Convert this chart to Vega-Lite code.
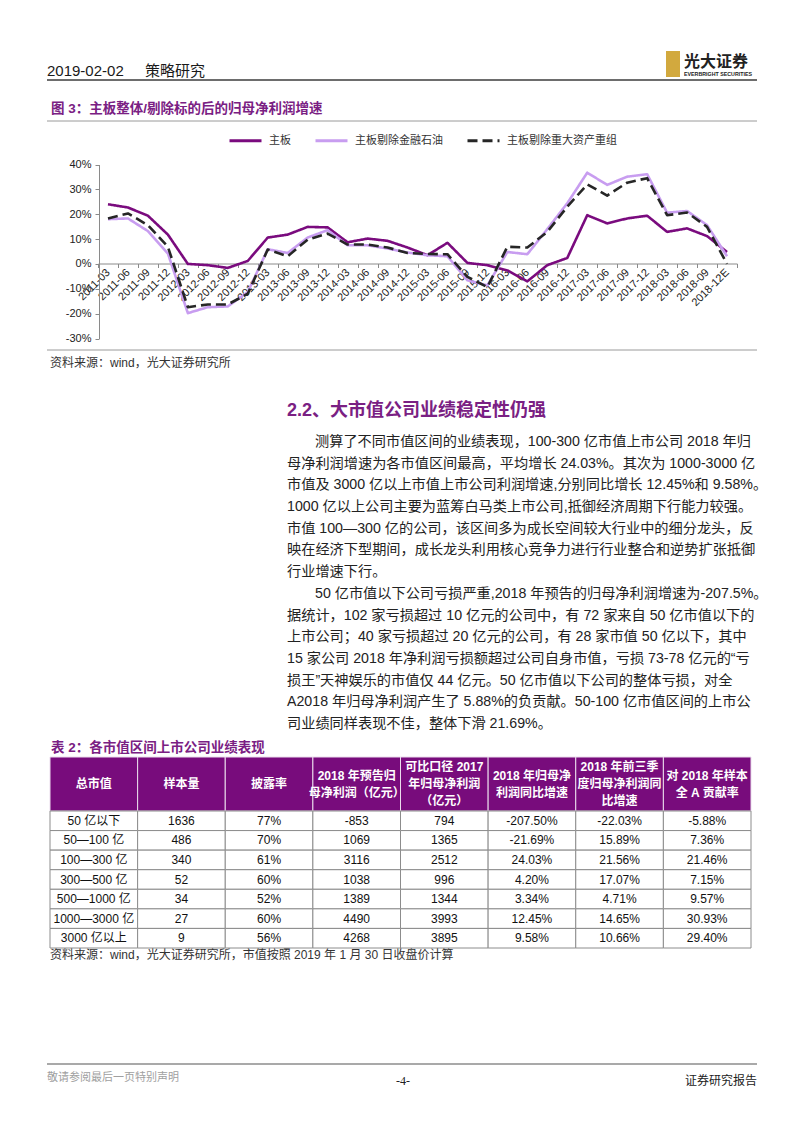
{
  "$schema": "https://vega.github.io/schema/vega-lite/v6.json",
  "width": 802,
  "height": 1133,
  "autosize": "none",
  "padding": 0,
  "background": "white",
  "config": {"view": {"stroke": null}, "font": "Liberation Sans, Noto Sans CJK SC"},
  "resolve": {"scale": {"x": "independent", "y": "independent"}},
  "layer": [
    {
      "data": {"values": [{"rule": "header"}]},
      "mark": {"type": "rule", "stroke": "#3c3c3c", "strokeWidth": 1.5},
      "encoding": {
        "x": {"datum": "left", "type": "nominal", "scale": {"type": "point", "domain": ["left", "right"], "range": [47, 757], "padding": 0}, "axis": null},
        "x2": {"datum": "right"},
        "y": {"field": "rule", "type": "nominal", "scale": {"type": "point", "domain": ["header"], "range": [80, 80], "padding": 0}, "axis": null}
      }
    },
    {
      "data": {"values": [{"rule": "caption"}, {"rule": "source"}]},
      "mark": {"type": "rule", "stroke": "#9a9a9a", "strokeWidth": 1},
      "encoding": {
        "x": {"datum": "left", "type": "nominal", "scale": {"type": "point", "domain": ["left", "right"], "range": [47, 757], "padding": 0}, "axis": null},
        "x2": {"datum": "right"},
        "y": {"field": "rule", "type": "nominal", "scale": {"type": "point", "domain": ["caption", "source"], "range": [121, 350], "padding": 0}, "axis": null}
      }
    },
    {
      "data": {"values": [{"rule": "footer"}]},
      "mark": {"type": "rule", "stroke": "#8c8c8c", "strokeWidth": 1.5},
      "encoding": {
        "x": {"datum": "left", "type": "nominal", "scale": {"type": "point", "domain": ["left", "right"], "range": [47, 757], "padding": 0}, "axis": null},
        "x2": {"datum": "right"},
        "y": {"field": "rule", "type": "nominal", "scale": {"type": "point", "domain": ["footer"], "range": [1064, 1064], "padding": 0}, "axis": null}
      }
    },
    {
      "data": {"values": [{"part": "date", "text": "2019-02-02"}, {"part": "section", "text": "策略研究"}]},
      "mark": {"type": "text", "align": "left", "baseline": "middle", "fontSize": 15, "color": "#1a1a1a"},
      "encoding": {
        "x": {"field": "part", "type": "nominal", "scale": {"type": "point", "domain": ["date", "section"], "range": [47, 145], "padding": 0}, "axis": null},
        "y": {"datum": "header", "type": "nominal", "scale": {"type": "point", "domain": ["header"], "range": [71, 71], "padding": 0}, "axis": null},
        "text": {"field": "text"}
      }
    },
    {
      "data": {"values": [{"logo": "E"}]},
      "mark": {"type": "rect", "fill": "#D2A93E"},
      "encoding": {
        "x": {"datum": "l", "type": "nominal", "scale": {"type": "point", "domain": ["l", "r"], "range": [666, 680], "padding": 0}, "axis": null},
        "x2": {"datum": "r"},
        "y": {"datum": "t", "type": "nominal", "scale": {"type": "point", "domain": ["t", "b"], "range": [51, 77], "padding": 0}, "axis": null},
        "y2": {"datum": "b"}
      }
    },
    {
      "data": {"values": [{"k": "cn", "text": "光大证券"}, {"k": "en", "text": "EVERBRIGHT SECURITIES"}]},
      "mark": {"type": "text", "align": "left", "baseline": "middle", "fontWeight": "bold", "color": "#222"},
      "encoding": {
        "x": {"datum": "logo", "type": "nominal", "scale": {"type": "point", "domain": ["logo"], "range": [684, 684], "padding": 0}, "axis": null},
        "y": {"field": "k", "type": "nominal", "scale": {"type": "point", "domain": ["cn", "en"], "range": [62, 73.5], "padding": 0}, "axis": null},
        "size": {"field": "k", "type": "nominal", "scale": {"domain": ["cn", "en"], "range": [16, 5.3]}, "legend": null},
        "text": {"field": "text"}
      }
    },
    {
      "data": {"values": [{"k": "fig", "text": "图 3：主板整体/剔除标的后的归母净利润增速"}, {"k": "tab", "text": "表 2：各市值区间上市公司业绩表现"}]},
      "mark": {"type": "text", "align": "left", "baseline": "middle", "fontSize": 13.5, "fontWeight": "bold", "color": "#7A2083"},
      "encoding": {
        "x": {"datum": "cap", "type": "nominal", "scale": {"type": "point", "domain": ["cap"], "range": [51, 51], "padding": 0}, "axis": null},
        "y": {"field": "k", "type": "nominal", "scale": {"type": "point", "domain": ["fig", "tab"], "range": [108.5, 748], "padding": 0}, "axis": null},
        "text": {"field": "text"}
      }
    },
    {
      "data": {"values": [{"k": "fig", "text": "资料来源：wind，光大证券研究所"}, {"k": "tab", "text": "资料来源：wind，光大证券研究所，市值按照 2019 年 1 月 30 日收盘价计算"}]},
      "mark": {"type": "text", "align": "left", "baseline": "middle", "fontSize": 12, "color": "#333"},
      "encoding": {
        "x": {"datum": "src", "type": "nominal", "scale": {"type": "point", "domain": ["src"], "range": [50, 50], "padding": 0}, "axis": null},
        "y": {"field": "k", "type": "nominal", "scale": {"type": "point", "domain": ["fig", "tab"], "range": [363, 955], "padding": 0}, "axis": null},
        "text": {"field": "text"}
      }
    },
    {
      "data": {"values": [{"k": "h", "text": "2.2、大市值公司业绩稳定性仍强"}]},
      "mark": {"type": "text", "align": "left", "baseline": "middle", "fontSize": 18, "fontWeight": "bold", "color": "#7A2083"},
      "encoding": {
        "x": {"datum": "body", "type": "nominal", "scale": {"type": "point", "domain": ["body"], "range": [287, 287], "padding": 0}, "axis": null},
        "y": {"field": "k", "type": "nominal", "scale": {"type": "point", "domain": ["h"], "range": [411, 411], "padding": 0}, "axis": null},
        "text": {"field": "text"}
      }
    },
    {
      "data": {"values": [
        {"line": 1, "indent": "yes", "text": "测算了不同市值区间的业绩表现，100-300 亿市值上市公司 2018 年归"},
        {"line": 2, "indent": "no", "text": "母净利润增速为各市值区间最高，平均增长 24.03%。其次为 1000-3000 亿"},
        {"line": 3, "indent": "no", "text": "市值及 3000 亿以上市值上市公司利润增速,分别同比增长 12.45%和 9.58%。"},
        {"line": 4, "indent": "no", "text": "1000 亿以上公司主要为蓝筹白马类上市公司,抵御经济周期下行能力较强。"},
        {"line": 5, "indent": "no", "text": "市值 100—300 亿的公司，该区间多为成长空间较大行业中的细分龙头，反"},
        {"line": 6, "indent": "no", "text": "映在经济下型期间，成长龙头利用核心竞争力进行行业整合和逆势扩张抵御"},
        {"line": 7, "indent": "no", "text": "行业增速下行。"},
        {"line": 8, "indent": "yes", "text": "50 亿市值以下公司亏损严重,2018 年预告的归母净利润增速为-207.5%。"},
        {"line": 9, "indent": "no", "text": "据统计，102 家亏损超过 10 亿元的公司中，有 72 家来自 50 亿市值以下的"},
        {"line": 10, "indent": "no", "text": "上市公司；40 家亏损超过 20 亿元的公司，有 28 家市值 50 亿以下，其中"},
        {"line": 11, "indent": "no", "text": "15 家公司 2018 年净利润亏损额超过公司自身市值，亏损 73-78 亿元的“亏"},
        {"line": 12, "indent": "no", "text": "损王”天神娱乐的市值仅 44 亿元。50 亿市值以下公司的整体亏损，对全"},
        {"line": 13, "indent": "no", "text": "A2018 年归母净利润产生了 5.88%的负贡献。50-100 亿市值区间的上市公"},
        {"line": 14, "indent": "no", "text": "司业绩同样表现不佳，整体下滑 21.69%。"}
      ]},
      "mark": {"type": "text", "align": "left", "baseline": "middle", "fontSize": 14.2, "color": "#222"},
      "encoding": {
        "x": {"field": "indent", "type": "nominal", "scale": {"type": "point", "domain": ["no", "yes"], "range": [287, 315], "padding": 0}, "axis": null},
        "y": {"field": "line", "type": "ordinal", "scale": {"type": "point", "range": [442, 724], "padding": 0}, "axis": null},
        "text": {"field": "text"}
      }
    },
    {
      "data": {"values": [
        {"q": "2011-03", "主板": 24.0, "主板剔除金融石油": 18.0, "主板剔除重大资产重组": 18.3},
        {"q": "2011-06", "主板": 22.7, "主板剔除金融石油": 18.3, "主板剔除重大资产重组": 20.3},
        {"q": "2011-09", "主板": 19.4, "主板剔除金融石油": 13.2, "主板剔除重大资产重组": 15.6},
        {"q": "2011-12", "主板": 11.8, "主板剔除金融石油": 4.2, "主板剔除重大资产重组": 6.9},
        {"q": "2012-03", "主板": 0.0, "主板剔除金融石油": -19.8, "主板剔除重大资产重组": -17.4},
        {"q": "2012-06", "主板": -0.5, "主板剔除金融石油": -17.4, "主板剔除重大资产重组": -16.3},
        {"q": "2012-09", "主板": -1.6, "主板剔除金融石油": -17.1, "主板剔除重大资产重组": -16.3},
        {"q": "2012-12", "主板": 1.2, "主板剔除金融石油": -11.3, "主板剔除重大资产重组": -12.0},
        {"q": "2013-03", "主板": 10.6, "主板剔除金融石油": 5.9, "主板剔除重大资产重组": 5.8},
        {"q": "2013-06", "主板": 11.8, "主板剔除金融石油": 4.4, "主板剔除重大资产重组": 3.1},
        {"q": "2013-09", "主板": 14.9, "主板剔除金融石油": 10.6, "主板剔除重大资产重组": 9.8},
        {"q": "2013-12", "主板": 14.7, "主板剔除金融石油": 13.6, "主板剔除重大资产重组": 12.2},
        {"q": "2014-03", "主板": 8.7, "主板剔除金融石油": 7.5, "主板剔除重大资产重组": 7.8},
        {"q": "2014-06", "主板": 10.2, "主板剔除金融石油": 7.5, "主板剔除重大资产重组": 7.8},
        {"q": "2014-09", "主板": 9.3, "主板剔除金融石油": 6.2, "主板剔除重大资产重组": 6.6},
        {"q": "2014-12", "主板": 6.6, "主板剔除金融石油": 4.6, "主板剔除重大资产重组": 4.4},
        {"q": "2015-03", "主板": 3.5, "主板剔除金融石油": 3.5, "主板剔除重大资产重组": 4.0},
        {"q": "2015-06", "主板": 8.5, "主板剔除金融石油": 3.1, "主板剔除重大资产重组": 3.9},
        {"q": "2015-09", "主板": 0.4, "主板剔除金融石油": -6.6, "主板剔除重大资产重组": -5.2},
        {"q": "2015-12", "主板": -0.5, "主板剔除金融石油": -8.6, "主板剔除重大资产重组": -9.3},
        {"q": "2016-03", "主板": -2.6, "主板剔除金融石油": 4.8, "主板剔除重大资产重组": 6.9},
        {"q": "2016-06", "主板": -7.0, "主板剔除金融石油": 3.9, "主板剔除重大资产重组": 6.6},
        {"q": "2016-09", "主板": -0.5, "主板剔除金融石油": 14.0, "主板剔除重大资产重组": 12.9},
        {"q": "2016-12", "主板": 2.4, "主板剔除金融石油": 24.4, "主板剔除重大资产重组": 23.0},
        {"q": "2017-03", "主板": 19.6, "主板剔除金融石油": 36.7, "主板剔除重大资产重组": 32.0},
        {"q": "2017-06", "主板": 16.3, "主板剔除金融石油": 31.8, "主板剔除重大资产重组": 27.5},
        {"q": "2017-09", "主板": 18.3, "主板剔除金融石油": 35.1, "主板剔除重大资产重组": 32.7},
        {"q": "2017-12", "主板": 19.4, "主板剔除金融石油": 36.1, "主板剔除重大资产重组": 34.5},
        {"q": "2018-03", "主板": 12.9, "主板剔除金融石油": 20.6, "主板剔除重大资产重组": 19.6},
        {"q": "2018-06", "主板": 14.3, "主板剔除金融石油": 21.3, "主板剔除重大资产重组": 20.7},
        {"q": "2018-09", "主板": 11.2, "主板剔除金融石油": 15.6, "主板剔除重大资产重组": 14.9},
        {"q": "2018-12E", "主板": 4.8, "主板剔除金融石油": 3.1, "主板剔除重大资产重组": 0.0}
      ]},
      "transform": [{"fold": ["主板", "主板剔除金融石油", "主板剔除重大资产重组"], "as": ["series", "value"]}],
      "mark": {"type": "line", "strokeWidth": 2.6, "strokeJoin": "round"},
      "encoding": {
        "x": {
          "field": "q", "type": "ordinal", "bandPosition": 0.5,
          "scale": {"type": "band", "domain": ["2011-03","2011-06","2011-09","2011-12","2012-03","2012-06","2012-09","2012-12","2013-03","2013-06","2013-09","2013-12","2014-03","2014-06","2014-09","2014-12","2015-03","2015-06","2015-09","2015-12","2016-03","2016-06","2016-09","2016-12","2017-03","2017-06","2017-09","2017-12","2018-03","2018-06","2018-09","2018-12E"], "range": [98, 737], "paddingInner": 0, "paddingOuter": 0},
          "axis": {"orient": "bottom", "offset": -869.5, "title": null, "grid": false, "labelAngle": -45, "labelAlign": "right", "labelBaseline": "middle", "labelFont": "Liberation Sans", "labelFontSize": 11, "labelColor": "#222", "labelPadding": 3, "tickBand": "extent", "tickSize": 4, "tickColor": "#8a8a8a", "domainColor": "#8a8a8a"}
        },
        "y": {
          "field": "value", "type": "quantitative",
          "scale": {"domain": [-30, 40], "range": [338.5, 164.5], "nice": false, "zero": false},
          "axis": {"orient": "left", "offset": -99, "title": null, "grid": false, "values": [-30, -20, -10, 0, 10, 20, 30, 40], "labelExpr": "datum.value + '%'", "labelFont": "Liberation Sans", "labelFontSize": 11, "labelColor": "#222", "labelPadding": 4, "tickSize": 4, "tickColor": "#8a8a8a", "domainColor": "#8a8a8a"}
        },
        "color": {
          "field": "series", "type": "nominal",
          "scale": {"domain": ["主板", "主板剔除金融石油", "主板剔除重大资产重组"], "range": ["#7A0B7E", "#C89DF0", "#262626"]},
          "legend": {"title": null, "orient": "none", "legendX": 228, "legendY": 123, "direction": "horizontal", "symbolType": "stroke", "symbolSize": 1024, "symbolStrokeWidth": 3, "labelFont": "Noto Sans CJK SC", "labelFontSize": 11, "labelColor": "#333", "labelOffset": 6, "columnPadding": 18, "padding": 0}
        },
        "strokeDash": {
          "field": "series", "type": "nominal",
          "scale": {"domain": ["主板", "主板剔除金融石油", "主板剔除重大资产重组"], "range": [[1, 0], [1, 0], [10, 5]]},
          "legend": {"title": null, "orient": "none", "legendX": 228, "legendY": 123, "direction": "horizontal", "symbolType": "stroke", "symbolSize": 1024, "symbolStrokeWidth": 3, "labelFont": "Noto Sans CJK SC", "labelFontSize": 11, "labelColor": "#333", "labelOffset": 6, "columnPadding": 18, "padding": 0}
        }
      }
    },
    {
      "data": {"values": [
        {"col": "总市值"}, {"col": "样本量"}, {"col": "披露率"}, {"col": "2018年预告归母净利润"},
        {"col": "可比口径2017年归母净利润"}, {"col": "2018年归母净利润同比增速"},
        {"col": "2018年前三季度归母净利润同比增速"}, {"col": "对2018年样本全A贡献率"}
      ]},
      "mark": {"type": "rect", "fill": "#780C7C", "stroke": "#eadcec", "strokeWidth": 1},
      "encoding": {
        "x": {"field": "col", "type": "nominal", "scale": {"type": "band", "domain": ["总市值","样本量","披露率","2018年预告归母净利润","可比口径2017年归母净利润","2018年归母净利润同比增速","2018年前三季度归母净利润同比增速","对2018年样本全A贡献率"], "range": [50, 751], "paddingInner": 0, "paddingOuter": 0}, "axis": null},
        "y": {"datum": "header", "type": "nominal", "scale": {"type": "band", "domain": ["header"], "range": [757, 811], "paddingInner": 0, "paddingOuter": 0}, "axis": null}
      }
    },
    {
      "data": {"values": [
        {"col": "总市值", "slot": 3, "text": "总市值"},
        {"col": "样本量", "slot": 3, "text": "样本量"},
        {"col": "披露率", "slot": 3, "text": "披露率"},
        {"col": "2018年预告归母净利润", "slot": 2, "text": "2018 年预告归"},
        {"col": "2018年预告归母净利润", "slot": 4, "text": "母净利润（亿元）"},
        {"col": "可比口径2017年归母净利润", "slot": 1, "text": "可比口径 2017"},
        {"col": "可比口径2017年归母净利润", "slot": 3, "text": "年归母净利润"},
        {"col": "可比口径2017年归母净利润", "slot": 5, "text": "（亿元）"},
        {"col": "2018年归母净利润同比增速", "slot": 2, "text": "2018 年归母净"},
        {"col": "2018年归母净利润同比增速", "slot": 4, "text": "利润同比增速"},
        {"col": "2018年前三季度归母净利润同比增速", "slot": 1, "text": "2018 年前三季"},
        {"col": "2018年前三季度归母净利润同比增速", "slot": 3, "text": "度归母净利润同"},
        {"col": "2018年前三季度归母净利润同比增速", "slot": 5, "text": "比增速"},
        {"col": "对2018年样本全A贡献率", "slot": 2, "text": "对 2018 年样本"},
        {"col": "对2018年样本全A贡献率", "slot": 4, "text": "全 A 贡献率"}
      ]},
      "mark": {"type": "text", "align": "center", "baseline": "middle", "fontSize": 12, "fontWeight": "bold", "color": "white"},
      "encoding": {
        "x": {"field": "col", "type": "nominal", "scale": {"type": "band", "domain": ["总市值","样本量","披露率","2018年预告归母净利润","可比口径2017年归母净利润","2018年归母净利润同比增速","2018年前三季度归母净利润同比增速","对2018年样本全A贡献率"], "range": [50, 751], "paddingInner": 0, "paddingOuter": 0}, "axis": null},
        "y": {"field": "slot", "type": "ordinal", "scale": {"type": "point", "domain": [1, 2, 3, 4, 5], "range": [767, 801], "padding": 0}, "axis": null},
        "text": {"field": "text"}
      }
    },
    {
      "data": {"values": [
        {"总市值": "50 亿以下", "样本量": "1636", "披露率": "77%", "2018年预告归母净利润": "-853", "可比口径2017年归母净利润": "794", "2018年归母净利润同比增速": "-207.50%", "2018年前三季度归母净利润同比增速": "-22.03%", "对2018年样本全A贡献率": "-5.88%"},
        {"总市值": "50—100 亿", "样本量": "486", "披露率": "70%", "2018年预告归母净利润": "1069", "可比口径2017年归母净利润": "1365", "2018年归母净利润同比增速": "-21.69%", "2018年前三季度归母净利润同比增速": "15.89%", "对2018年样本全A贡献率": "7.36%"},
        {"总市值": "100—300 亿", "样本量": "340", "披露率": "61%", "2018年预告归母净利润": "3116", "可比口径2017年归母净利润": "2512", "2018年归母净利润同比增速": "24.03%", "2018年前三季度归母净利润同比增速": "21.56%", "对2018年样本全A贡献率": "21.46%"},
        {"总市值": "300—500 亿", "样本量": "52", "披露率": "60%", "2018年预告归母净利润": "1038", "可比口径2017年归母净利润": "996", "2018年归母净利润同比增速": "4.20%", "2018年前三季度归母净利润同比增速": "17.07%", "对2018年样本全A贡献率": "7.15%"},
        {"总市值": "500—1000 亿", "样本量": "34", "披露率": "52%", "2018年预告归母净利润": "1389", "可比口径2017年归母净利润": "1344", "2018年归母净利润同比增速": "3.34%", "2018年前三季度归母净利润同比增速": "4.71%", "对2018年样本全A贡献率": "9.57%"},
        {"总市值": "1000—3000 亿", "样本量": "27", "披露率": "60%", "2018年预告归母净利润": "4490", "可比口径2017年归母净利润": "3993", "2018年归母净利润同比增速": "12.45%", "2018年前三季度归母净利润同比增速": "14.65%", "对2018年样本全A贡献率": "30.93%"},
        {"总市值": "3000 亿以上", "样本量": "9", "披露率": "56%", "2018年预告归母净利润": "4268", "可比口径2017年归母净利润": "3895", "2018年归母净利润同比增速": "9.58%", "2018年前三季度归母净利润同比增速": "10.66%", "对2018年样本全A贡献率": "29.40%"}
      ]},
      "transform": [{"fold": ["总市值","样本量","披露率","2018年预告归母净利润","可比口径2017年归母净利润","2018年归母净利润同比增速","2018年前三季度归母净利润同比增速","对2018年样本全A贡献率"], "as": ["col", "cell"]}],
      "layer": [
        {
          "mark": {"type": "rect", "fill": "white", "stroke": "#8c8c8c", "strokeWidth": 1},
          "encoding": {
            "x": {"field": "col", "type": "nominal", "scale": {"type": "band", "domain": ["总市值","样本量","披露率","2018年预告归母净利润","可比口径2017年归母净利润","2018年归母净利润同比增速","2018年前三季度归母净利润同比增速","对2018年样本全A贡献率"], "range": [50, 751], "paddingInner": 0, "paddingOuter": 0}, "axis": null},
            "y": {"field": "总市值", "type": "nominal", "scale": {"type": "band", "domain": ["50 亿以下","50—100 亿","100—300 亿","300—500 亿","500—1000 亿","1000—3000 亿","3000 亿以上"], "range": [811, 948], "paddingInner": 0, "paddingOuter": 0}, "axis": null}
          }
        },
        {
          "mark": {"type": "text", "align": "center", "baseline": "middle", "fontSize": 12, "color": "#111"},
          "encoding": {
            "x": {"field": "col", "type": "nominal", "scale": {"type": "band", "domain": ["总市值","样本量","披露率","2018年预告归母净利润","可比口径2017年归母净利润","2018年归母净利润同比增速","2018年前三季度归母净利润同比增速","对2018年样本全A贡献率"], "range": [50, 751], "paddingInner": 0, "paddingOuter": 0}, "axis": null},
            "y": {"field": "总市值", "type": "nominal", "scale": {"type": "band", "domain": ["50 亿以下","50—100 亿","100—300 亿","300—500 亿","500—1000 亿","1000—3000 亿","3000 亿以上"], "range": [811, 948], "paddingInner": 0, "paddingOuter": 0}, "axis": null},
            "text": {"field": "cell"}
          }
        }
      ]
    },
    {
      "data": {"values": [{"k": "notice", "text": "敬请参阅最后一页特别声明"}]},
      "mark": {"type": "text", "align": "left", "baseline": "middle", "fontSize": 11, "color": "#a0a0a0"},
      "encoding": {
        "x": {"datum": "l", "type": "nominal", "scale": {"type": "point", "domain": ["l"], "range": [47, 47], "padding": 0}, "axis": null},
        "y": {"field": "k", "type": "nominal", "scale": {"type": "point", "domain": ["notice"], "range": [1078, 1078], "padding": 0}, "axis": null},
        "text": {"field": "text"}
      }
    },
    {
      "data": {"values": [{"k": "page", "text": "-4-"}]},
      "mark": {"type": "text", "align": "center", "baseline": "middle", "fontSize": 12, "font": "Liberation Serif", "color": "#222"},
      "encoding": {
        "x": {"datum": "c", "type": "nominal", "scale": {"type": "point", "domain": ["c"], "range": [403, 403], "padding": 0}, "axis": null},
        "y": {"field": "k", "type": "nominal", "scale": {"type": "point", "domain": ["page"], "range": [1081, 1081], "padding": 0}, "axis": null},
        "text": {"field": "text"}
      }
    },
    {
      "data": {"values": [{"k": "type", "text": "证券研究报告"}]},
      "mark": {"type": "text", "align": "right", "baseline": "middle", "fontSize": 12, "color": "#222"},
      "encoding": {
        "x": {"datum": "r", "type": "nominal", "scale": {"type": "point", "domain": ["r"], "range": [757, 757], "padding": 0}, "axis": null},
        "y": {"field": "k", "type": "nominal", "scale": {"type": "point", "domain": ["type"], "range": [1081, 1081], "padding": 0}, "axis": null},
        "text": {"field": "text"}
      }
    }
  ]
}
